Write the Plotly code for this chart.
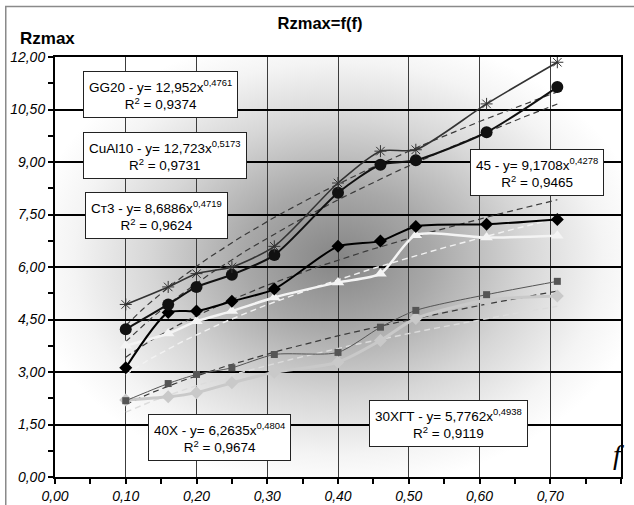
import base64
import numpy as np
import plotly.graph_objects as go

# ---------------- data ----------------
f_vals = [0.10, 0.16, 0.20, 0.25, 0.31, 0.40, 0.46, 0.51, 0.61, 0.71]
gg20 = [4.93, 5.43, 5.81, 6.00, 6.59, 8.40, 9.31, 9.35, 10.66, 11.85]
cual10 = [4.22, 4.93, 5.43, 5.78, 6.34, 8.12, 8.92, 9.05, 9.85, 11.14]
s45 = [3.12, 4.70, 4.74, 5.02, 5.37, 6.59, 6.74, 7.16, 7.22, 7.36]
st3 = [3.75, 4.10, 4.45, 4.74, 5.13, 5.56, 5.81, 6.91, 6.84, 6.89]
x40 = [2.18, 2.67, 2.93, 3.12, 3.50, 3.56, 4.28, 4.76, 5.21, 5.59]
x30 = [2.20, 2.29, 2.41, 2.69, 2.99, 3.28, 3.90, 4.53, 5.05, 5.17]

# power trend lines y = a * f^b (coefficients printed on the chart)
trend_names = ["GG20", "CuAl10", "Ст3", "45", "40Х", "30ХГТ"]
trend_a = [12.952, 12.723, 8.6886, 9.1708, 6.2635, 5.7762]
trend_b = [0.4761, 0.5173, 0.4719, 0.4278, 0.4804, 0.4938]
trend_r2 = ["0,9374", "0,9731", "0,9624", "0,9465", "0,9674", "0,9119"]
trend_a_txt = ["12,952", "12,723", "8,6886", "9,1708", "6,2635", "5,7762"]
trend_b_txt = ["0,4761", "0,5173", "0,4719", "0,4278", "0,4804", "0,4938"]

x_ticks = [0.0, 0.1, 0.2, 0.3, 0.4, 0.5, 0.6, 0.7, 0.8]
y_ticks = [0.0, 1.5, 3.0, 4.5, 6.0, 7.5, 9.0, 10.5, 12.0]

FONT = "Liberation Sans, Arial, sans-serif"

fig = go.Figure()

# background radial gradient
svg = (
    "<svg xmlns='http://www.w3.org/2000/svg' width='566' height='421' "
    "viewBox='0 0 566 421' preserveAspectRatio='none'>"
    "<defs><radialGradient id='g' cx='0.5' cy='0.48' r='0.55'>"
    "<stop offset='0' stop-color='#858585'/>"
    "<stop offset='0.3' stop-color='#a8a8a8'/>"
    "<stop offset='0.6' stop-color='#d6d6d6'/>"
    "<stop offset='0.85' stop-color='#f4f4f4'/>"
    "<stop offset='1' stop-color='#ffffff'/>"
    "</radialGradient></defs>"
    "<rect x='0' y='0' width='566' height='421' fill='url(#g)'/></svg>"
)
uri = "data:image/svg+xml;base64," + base64.b64encode(svg.encode()).decode()

# trend lines
fx = np.linspace(min(f_vals), max(f_vals), 80)
trend_styles = {
    "GG20": ("#3a3a3a", 1.2),
    "CuAl10": ("#3a3a3a", 1.2),
    "Ст3": ("#f2f2f2", 1.4),
    "45": ("#3a3a3a", 1.2),
    "40Х": ("#3a3a3a", 1.2),
    "30ХГТ": ("#dcdcdc", 1.4),
}
for name, a, b in zip(trend_names, trend_a, trend_b):
    col, w = trend_styles[name]
    fig.add_trace(go.Scatter(
        x=fx, y=a * fx ** b, mode="lines",
        line=dict(color=col, width=w, dash="6px,4px"),
        hoverinfo="skip", showlegend=False))

def series(y, line_col, lw, sym, msize, mcol, mline=None):
    fig.add_trace(go.Scatter(
        x=f_vals, y=y, mode="lines+markers",
        line=dict(color=line_col, width=lw, shape="spline", smoothing=0.7),
        marker=dict(symbol=sym, size=msize, color=mcol,
                    line=mline if mline else dict(width=0)),
        showlegend=False))

series(x30, "#c9c9c9", 3, "diamond", 10, "#c9c9c9")
series(x40, "#555555", 1, "square", 7, "#555555")
series(st3, "#f4f4f4", 2.5, "triangle-up", 11, "#f4f4f4")
series(s45, "#000000", 2, "diamond", 10, "#000000")
series(cual10, "#111111", 2, "circle", 12, "#111111")
series(gg20, "#333333", 1.6, "asterisk-open", 10, "#333333",
       dict(color="#444444", width=1))

# equation boxes
box_pos = {
    "GG20": (0.1485, 10.94),
    "CuAl10": (0.1556, 9.20),
    "Ст3": (0.1429, 7.48),
    "45": (0.681, 8.70),
    "40Х": (0.2327, 1.13),
    "30ХГТ": (0.5566, 1.54),
}
annotations = []
for name, at, bt, r2 in zip(trend_names, trend_a_txt, trend_b_txt, trend_r2):
    x, y = box_pos[name]
    annotations.append(dict(
        x=x, y=y, xref="x", yref="y", showarrow=False,
        text=f"{name} - y= {at}x<sup>{bt}</sup><br>R<sup>2</sup> = {r2}",
        font=dict(family=FONT, size=13.5, color="black"),
        bgcolor="white", bordercolor="#222222", borderwidth=1, borderpad=5,
        align="center"))

annotations.append(dict(
    x=-0.065, y=1.044, xref="paper", yref="paper", xanchor="left",
    yanchor="middle", showarrow=False, text="<b>Rzmax</b>",
    font=dict(family=FONT, size=17, color="black")))
annotations.append(dict(
    x=0.796, y=0.63, xref="x", yref="y", xanchor="center", yanchor="middle",
    showarrow=False, text="<i>f</i>",
    font=dict(family="Liberation Serif, Times New Roman, serif", size=28,
              color="black")))

fig.update_layout(
    width=634, height=505,
    margin=dict(l=55, r=13, t=57, b=28, autoexpand=False),
    paper_bgcolor="white", plot_bgcolor="white",
    separators=", ",
    title=dict(text="<b>Rzmax=f(f)</b>", x=320 / 634, xref="container",
               xanchor="center", y=1 - 23 / 505, yref="container",
               yanchor="middle",
               font=dict(family=FONT, size=16.5, color="black")),
    images=[dict(source=uri, xref="paper", yref="paper", x=0, y=1,
                 sizex=1, sizey=1, sizing="stretch", layer="below",
                 xanchor="left", yanchor="top")],
    annotations=annotations,
    shapes=[dict(type="rect", xref="paper", yref="paper",
                 x0=-0.087, x1=1.2, y0=-0.3, y1=1.12,
                 line=dict(color="#8a8a8a", width=1.5), layer="below")],
    xaxis=dict(range=[0, 0.8], tickvals=x_ticks, tickformat=".2f",
               ticks="outside", ticklen=5, tickwidth=1.5, tickcolor="black",
               minor=dict(dtick=0.05, tick0=0, ticks="outside", ticklen=5,
                          tickwidth=1.5, tickcolor="black", showgrid=False),
               showline=True, linecolor="black", linewidth=2, mirror=True,
               showgrid=True, gridcolor="#3c3c3c", gridwidth=1,
               zeroline=False, automargin=False,
               tickfont=dict(family=FONT, size=14, color="black",
                             style="italic")),
    yaxis=dict(range=[0, 12], tickvals=y_ticks, tickformat=".2f",
               ticks="outside", ticklen=5, tickwidth=1.5, tickcolor="black",
               minor=dict(dtick=0.75, tick0=0, ticks="outside", ticklen=5,
                          tickwidth=1.5, tickcolor="black", showgrid=False),
               showline=True, linecolor="black", linewidth=2, mirror=True,
               showgrid=True, gridcolor="black", gridwidth=2,
               zeroline=False, automargin=False,
               tickfont=dict(family=FONT, size=14, color="black",
                             style="italic")),
    xaxis2=dict(range=[0, 0.8], overlaying="x", anchor="y", dtick=0.05,
                tick0=0, ticks="inside", ticklen=5, tickwidth=1.5,
                tickcolor="black", showticklabels=False, showgrid=False,
                showline=False, zeroline=False),
    yaxis2=dict(range=[0, 12], overlaying="y", anchor="x", dtick=0.75,
                tick0=0, ticks="inside", ticklen=5, tickwidth=1.5,
                tickcolor="black", showticklabels=False, showgrid=False,
                showline=False, zeroline=False),
)

fig.write_html("out.html",
               config={"displayModeBar": False},
               post_script="document.body.style.margin='0';"
                           "document.body.style.padding='0';")
